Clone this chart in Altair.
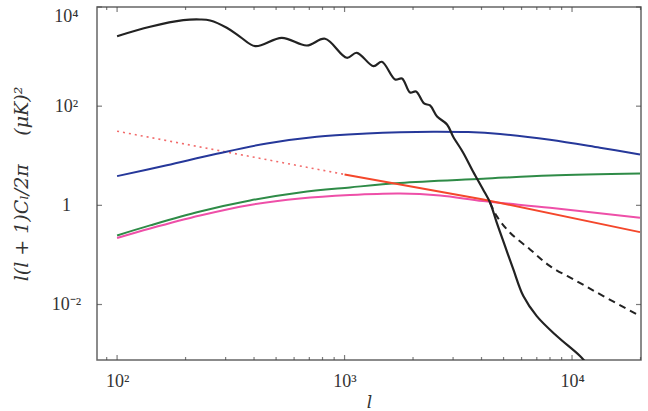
import altair as alt
import pandas as pd

# ---- data ----
black_l = [100, 139.7, 195.5, 231.6, 256.5, 303.4, 347.5, 404.6, 529.6, 682.3, 820.7, 1023, 1132, 1340, 1458, 1668,
           1789, 1941, 2062, 2236, 2376, 2551, 2821, 2999, 3318, 3671, 4063, 4361,
           4667, 5076, 5521, 6109, 6998, 8570, 10840, 11990]
black_y = [2576, 3990, 5420, 5600, 5345, 3810, 2506, 1622, 2393, 1675, 2285, 946, 1193, 640, 785, 345,
           362, 188.8, 197.8, 113.3, 103.3, 61.9, 42.8, 24.5, 11.66, 4.82, 2.09, 1.14,
           0.446, 0.150, 0.0510, 0.01476, 0.00583, 0.00231, 0.000912, 0.00054]

dash_l = [4361, 4667, 5341, 6537, 8007, 10490, 13730, 19900]
dash_y = [1.14, 0.605, 0.2805, 0.129, 0.0594, 0.0296, 0.01476, 0.00583]

blue_l = [100, 165.4, 274.2, 455, 755.5, 1252, 1753, 2456, 3500, 4826, 8000, 13270, 19900]
blue_y = [3.88, 6.46, 10.96, 17.7, 24.2, 28.2, 29.9, 30.5, 30.0, 27.5, 21.0, 14.5, 10.6]

green_l = [100, 139.7, 231.6, 384.2, 636.8, 1056, 1753, 4063, 8000, 19900]
green_y = [0.247, 0.394, 0.753, 1.256, 1.82, 2.30, 2.83, 3.44, 4.01, 4.40]

pink_l = [100, 139.7, 231.6, 384.2, 636.8, 1056, 1753, 2630, 4063, 8000, 19900]
pink_y = [0.220, 0.342, 0.625, 1.02, 1.38, 1.62, 1.74, 1.58, 1.22, 0.895, 0.562]

red_dot_l = [100, 1000]
red_dot_y = [31.3, 4.20]
red_l = [1000, 4074, 19900]
red_y = [4.20, 1.315, 0.288]

x_major = [100, 1000, 10000]
x_minor = [90, 200, 300, 400, 500, 600, 700, 800, 900,
           2000, 3000, 4000, 5000, 6000, 7000, 8000, 9000, 20000]
y_major = [0.01, 1, 100, 10000]

W, H = 544, 353
XDOM = [81.6, 20100]
YDOM = [7.6e-4, 1e4]
FONT = "Liberation Serif"
TFONT = "DejaVu Serif"

xs = alt.Scale(type="log", domain=XDOM, nice=False)
ys = alt.Scale(type="log", domain=YDOM, nice=False)


def line(ls, vs, color, dash=None, width=2.0, interp="catmull-rom"):
    df = pd.DataFrame({"l": ls, "v": vs})
    kw = dict(color=color, strokeWidth=width, clip=True, interpolate=interp)
    if dash:
        kw["strokeDash"] = dash
    return alt.Chart(df).mark_line(**kw).encode(
        x=alt.X("l:Q", scale=xs),
        y=alt.Y("v:Q", scale=ys),
    )


x_axis = alt.Axis(values=x_major, ticks=False, domain=False, grid=False,
                  labelExpr="datum.value == 100 ? '10²' : datum.value == 1000 ? '10³' : '10⁴'",
                  labelFont=FONT, labelFontSize=18, labelColor="#333", labelPadding=12,
                  title="l", titleFont=TFONT, titleFontStyle="italic", titleFontWeight="normal",
                  titleFontSize=17, titleColor="#333", titleX=W / 2, titleY=47, titleBaseline="alphabetic")
y_axis = alt.Axis(values=y_major, ticks=False, domain=False, grid=False, labelFlush=True,
                  labelExpr="datum.value == 10000 ? '10⁴' : datum.value == 100 ? '10²' : datum.value == 1 ? '1' : '10⁻²'",
                  labelFont=FONT, labelFontSize=18, labelColor="#333", labelPadding=31, labelAlign="center",
                  title="l(l + 1)Cₗ/2π\u2002\u2003(μK)²", titleFont=TFONT, titleFontStyle="italic",
                  titleFontWeight="normal",
                  titleFontSize=19, titleColor="#333", titleX=-76, titleY=H / 2, titleAngle=-90,
                  titleAlign="center", titleBaseline="middle")

base_df = pd.DataFrame({"l": [100], "v": [1.0]})
base = alt.Chart(base_df).mark_point(opacity=0).encode(
    x=alt.X("l:Q", scale=xs, axis=x_axis),
    y=alt.Y("v:Q", scale=ys, axis=y_axis),
)

xt_major = pd.DataFrame({"l": x_major})
xt_minor = pd.DataFrame({"l": x_minor})
yt = pd.DataFrame({"v": y_major})
tc = "#444"


def xticks(df, size, ypos):
    return alt.Chart(df).mark_tick(color=tc, thickness=1.2, size=size, orient="vertical").encode(
        x=alt.X("l:Q", scale=xs), y=alt.value(ypos))


def yticks(xpos):
    return alt.Chart(yt).mark_tick(color=tc, thickness=1.2, size=5, orient="horizontal").encode(
        y=alt.Y("v:Q", scale=ys), x=alt.value(xpos))


chart = alt.layer(
    base,
    xticks(xt_major, 5, H - 2.5), xticks(xt_minor, 3, H - 1.5),
    xticks(xt_major, 5, 2.5), xticks(xt_minor, 3, 1.5),
    yticks(2.5), yticks(W - 2.5),
    line(red_dot_l, red_dot_y, "#f26a6a", dash=[2, 4], width=1.6, interp="linear"),
    line(blue_l, blue_y, "#26389a"),
    line(green_l, green_y, "#2e8b47"),
    line(pink_l, pink_y, "#ee4fa8"),
    line(red_l, red_y, "#f4472b", interp="linear"),
    line(dash_l, dash_y, "#222222", dash=[7, 5]),
    line(black_l, black_y, "#222222", width=2.2),
).properties(
    width=W, height=H,
    autosize=alt.AutoSizeParams(type="none"),
    padding={"left": 97, "top": 7, "right": 7, "bottom": 51},
).configure_view(stroke="#666", strokeWidth=1.5)

chart.save("out.html", embed_options={"renderer": "svg", "actions": False})
